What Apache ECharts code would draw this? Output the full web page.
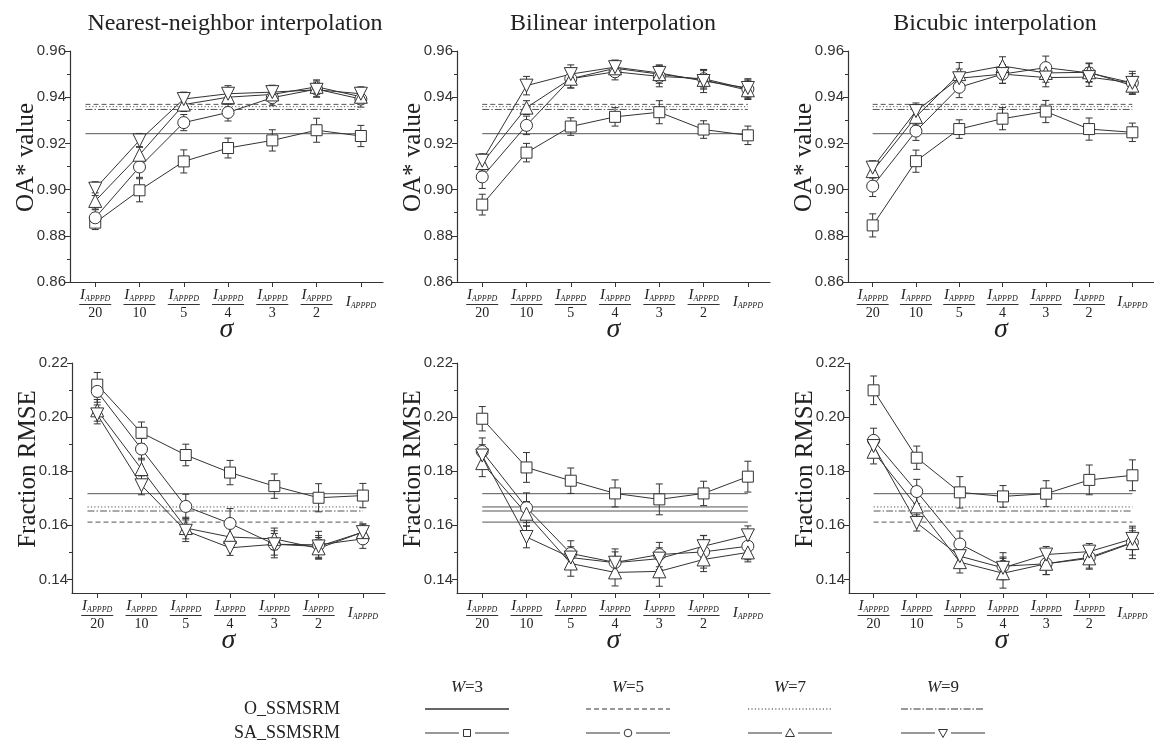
<!DOCTYPE html>
<html>
<head>
<meta charset="UTF-8">
<title>SSMSRM</title>
<script src="https://cdn.jsdelivr.net/npm/echarts@6/dist/echarts.min.js"></script>
<style>html,body{margin:0;background:#fff}#main{width:1154px;height:749px}</style>
</head>
<body>
<div id="main"></div>
<script>
// sigma = I_APPPD / n
var denominators = ['20', '10', '5', '4', '3', '2', ''];
var windowSizes = ['3', '5', '7', '9'];
var panelTitles = ['Nearest-neighbor interpolation', 'Bilinear interpolation', 'Bicubic interpolation'];

// O_SSMSRM (flat reference), W = 3, 5, 7, 9
var oaRef = [0.9242, 0.9369, 0.9359, 0.9347];
var rmseRef = [0.1717, 0.1612, 0.1668, 0.1653];

// SA_SSMSRM, rows W = 3, 5, 7, 9
var oaNearest = [
  [0.8857, 0.8997, 0.9122, 0.9180, 0.9213, 0.9257, 0.9232],
  [0.8878, 0.9098, 0.9290, 0.9334, 0.9398, 0.9435, 0.9392],
  [0.8951, 0.9151, 0.9368, 0.9400, 0.9412, 0.9445, 0.9402],
  [0.9004, 0.9213, 0.9392, 0.9415, 0.9422, 0.9432, 0.9415]
];
var oaNearestErr = [
  [0.003, 0.005, 0.005, 0.0043, 0.0046, 0.0052, 0.0046],
  [0.0035, 0.0045, 0.0035, 0.0037, 0.0035, 0.0035, 0.0035],
  [0.0035, 0.0035, 0.003, 0.003, 0.003, 0.003, 0.003],
  [0.003, 0.003, 0.003, 0.0035, 0.003, 0.003, 0.003]
];
var oaBilinear = [
  [0.8935, 0.9160, 0.9273, 0.9315, 0.9335, 0.9260, 0.9235],
  [0.9055, 0.9278, 0.9480, 0.9510, 0.9490, 0.9480, 0.9435],
  [0.9115, 0.9355, 0.9480, 0.9525, 0.9500, 0.9475, 0.9430],
  [0.9125, 0.9450, 0.9500, 0.9530, 0.9505, 0.9470, 0.9440]
];
var oaBilinearErr = [
  [0.0045, 0.004, 0.0038, 0.004, 0.005, 0.0038, 0.004],
  [0.005, 0.004, 0.004, 0.0035, 0.0045, 0.004, 0.004],
  [0.0035, 0.003, 0.004, 0.0035, 0.004, 0.004, 0.004],
  [0.003, 0.004, 0.004, 0.003, 0.003, 0.005, 0.004]
];
var oaBicubic = [
  [0.8845, 0.9123, 0.9262, 0.9307, 0.9338, 0.9262, 0.9248],
  [0.9015, 0.9253, 0.9443, 0.9500, 0.9528, 0.9505, 0.9462],
  [0.9080, 0.9315, 0.9500, 0.9535, 0.9505, 0.9508, 0.9450],
  [0.9095, 0.9340, 0.9482, 0.9500, 0.9485, 0.9487, 0.9462]
];
var oaBicubicErr = [
  [0.005, 0.0048, 0.004, 0.0048, 0.0048, 0.0048, 0.004],
  [0.0045, 0.004, 0.0045, 0.004, 0.005, 0.004, 0.005],
  [0.003, 0.0035, 0.005, 0.004, 0.004, 0.004, 0.0035],
  [0.003, 0.0035, 0.004, 0.004, 0.004, 0.004, 0.004]
];
var rmseNearest = [
  [0.2120, 0.1942, 0.1860, 0.1795, 0.1745, 0.1702, 0.1710],
  [0.2095, 0.1882, 0.1670, 0.1607, 0.1530, 0.1528, 0.1550],
  [0.2025, 0.1808, 0.1590, 0.1557, 0.1550, 0.1515, 0.1575],
  [0.2010, 0.1748, 0.1580, 0.1517, 0.1530, 0.1522, 0.1575]
];
var rmseNearestErr = [
  [0.0045, 0.004, 0.004, 0.0045, 0.0045, 0.0052, 0.0045],
  [0.004, 0.004, 0.0045, 0.0055, 0.005, 0.005, 0.0035],
  [0.004, 0.004, 0.004, 0.004, 0.004, 0.004, 0.003],
  [0.0035, 0.0035, 0.004, 0.0028, 0.004, 0.004, 0.003]
];
var rmseBilinear = [
  [0.1994, 0.1814, 0.1765, 0.1718, 0.1696, 0.1718, 0.1780],
  [0.1873, 0.1665, 0.1496, 0.1463, 0.1492, 0.1502, 0.1523],
  [0.1830, 0.1643, 0.1459, 0.1426, 0.1430, 0.1474, 0.1500],
  [0.1858, 0.1557, 0.1481, 0.1462, 0.1477, 0.1523, 0.1563]
];
var rmseBilinearErr = [
  [0.0045, 0.0055, 0.0047, 0.005, 0.0057, 0.0045, 0.0057],
  [0.005, 0.0055, 0.0047, 0.005, 0.0045, 0.006, 0.005],
  [0.005, 0.0045, 0.0047, 0.005, 0.0055, 0.0045, 0.0035],
  [0.004, 0.004, 0.004, 0.004, 0.004, 0.004, 0.0035]
];
var rmseBicubic = [
  [0.2099, 0.1850, 0.1722, 0.1707, 0.1717, 0.1768, 0.1785],
  [0.1914, 0.1725, 0.1531, 0.1449, 0.1458, 0.1482, 0.1537],
  [0.1872, 0.1670, 0.1464, 0.1423, 0.1458, 0.1478, 0.1535],
  [0.1893, 0.1609, 0.1486, 0.1443, 0.1492, 0.1503, 0.1550]
];
var rmseBicubicErr = [
  [0.0053, 0.0043, 0.0058, 0.004, 0.0048, 0.0055, 0.0057],
  [0.0045, 0.0045, 0.0048, 0.005, 0.004, 0.004, 0.006],
  [0.0045, 0.004, 0.004, 0.0055, 0.004, 0.004, 0.0045],
  [0.0035, 0.003, 0.004, 0.004, 0.003, 0.003, 0.004]
];

var oaMajor = [0.86, 0.88, 0.90, 0.92, 0.94, 0.96];
var oaMinor = [0.87, 0.89, 0.91, 0.93, 0.95];
var rmseMajor = [0.14, 0.16, 0.18, 0.20, 0.22];
var rmseMinor = [0.15, 0.17, 0.19, 0.21];

var serif = '"Liberation Serif", "DejaVu Serif", serif';
var sans = '"Liberation Sans", Arial, sans-serif';
var ink = '#333';
var symbols = ['rect', 'circle', 'triangle', 'triangle'];
var symbolRot = [0, 0, 0, 180];
var symbolSizes = [11, 12, 13, 13];
var dashes = ['solid', [5, 3], [1.2, 2.2], [7, 2, 1.5, 2]];

var panels = [
  {data: oaNearest, err: oaNearestErr, ref: oaRef, metric: 'oa', left: 70, refFrom: -0.22, solidRef: false},
  {data: oaBilinear, err: oaBilinearErr, ref: oaRef, metric: 'oa', left: 457, refFrom: 0, solidRef: false},
  {data: oaBicubic, err: oaBicubicErr, ref: oaRef, metric: 'oa', left: 848, refFrom: 0, solidRef: false},
  {data: rmseNearest, err: rmseNearestErr, ref: rmseRef, metric: 'rmse', left: 72, refFrom: -0.22, solidRef: false},
  {data: rmseBilinear, err: rmseBilinearErr, ref: rmseRef, metric: 'rmse', left: 457, refFrom: 0, solidRef: true},
  {data: rmseBicubic, err: rmseBicubicErr, ref: rmseRef, metric: 'rmse', left: 849, refFrom: 0, solidRef: false}
];

var catIdx = [0, 1, 2, 3, 4, 5, 6];

function xLabel(v) {
  var k = Math.round(v);
  if (!denominators[k]) return '{gap|}\n{i|I}{s|APPPD}';
  return '{i|I}{s|APPPD}\n{bar|}\n{d|' + denominators[k] + '}';
}

var grid = [], xAxis = [], yAxis = [], series = [];

panels.forEach(function (p, i) {
  var oa = p.metric === 'oa';
  grid.push({left: p.left, top: oa ? 51 : 363, width: 313, height: oa ? 231 : 230});
  xAxis.push({
    type: 'value', gridIndex: i, min: -0.57, max: 6.5,
    name: 'σ', nameLocation: 'middle', nameGap: 34, nameMoveOverlap: false,
    nameTextStyle: {fontFamily: serif, fontStyle: 'italic', fontSize: 28, color: '#222'},
    axisLine: {onZero: false, lineStyle: {color: ink, width: 1.2}},
    axisTick: {show: true, length: 5, customValues: catIdx, lineStyle: {color: ink}},
    axisLabel: {
      customValues: catIdx, margin: 6, formatter: xLabel,
      rich: {
        i: {fontFamily: serif, fontStyle: 'italic', fontSize: 15, color: '#222', lineHeight: 15},
        s: {fontFamily: serif, fontStyle: 'italic', fontSize: 8, color: '#222', lineHeight: 8, verticalAlign: 'bottom'},
        bar: {width: 32, height: 1, backgroundColor: '#333', lineHeight: 3},
        d: {fontFamily: serif, fontSize: 14, color: '#222', lineHeight: 15},
        gap: {lineHeight: 7}
      }
    },
    splitLine: {show: false}
  });
  var major = oa ? oaMajor : rmseMajor;
  var minor = oa ? oaMinor : rmseMinor;
  var ymin = oa ? 0.86 : 0.135, ymax = oa ? 0.96 : 0.22;
  yAxis.push({
    type: 'value', gridIndex: i, position: 'left', min: ymin, max: ymax,
    name: oa ? 'OA* value' : 'Fraction RMSE', nameLocation: 'middle', nameGap: 31, nameMoveOverlap: false,
    nameTextStyle: {fontFamily: serif, fontSize: 25, color: '#222', padding: [0, 0, 0, 18]},
    axisLine: {show: true, onZero: false, lineStyle: {color: ink, width: 1.2}},
    axisTick: {show: true, length: 5, customValues: major, lineStyle: {color: ink}},
    axisLabel: {customValues: major, margin: 4, fontFamily: sans, fontSize: 15, color: '#333',
      formatter: function (v) { return v.toFixed(2); }},
    splitLine: {show: false}
  });
  // minor ticks only
  yAxis.push({
    type: 'value', gridIndex: i, position: 'left', min: ymin, max: ymax,
    axisLine: {show: false, onZero: false},
    axisTick: {show: true, length: 3, customValues: minor, lineStyle: {color: ink}},
    axisLabel: {show: false},
    splitLine: {show: false}
  });
  var yIdx = 2 * i;

  p.ref.forEach(function (r, w) {
    series.push({
      type: 'line', xAxisIndex: i, yAxisIndex: yIdx, symbol: 'none', silent: true, z: 2,
      data: [[p.refFrom, r], [6, r]],
      lineStyle: {color: '#555', width: 1, type: p.solidRef ? 'solid' : dashes[w]}
    });
  });

  p.data.forEach(function (vals, w) {
    var e = p.err[w];
    series.push({
      type: 'custom', xAxisIndex: i, yAxisIndex: yIdx, silent: true, z: 3,
      data: vals.map(function (v, k) { return [k, v - e[k], v + e[k]]; }),
      encode: {x: 0, y: [1, 2]},
      renderItem: function (params, api) {
        var x = api.value(0);
        var lo = api.coord([x, api.value(1)]);
        var hi = api.coord([x, api.value(2)]);
        var st = {stroke: ink, lineWidth: 1};
        return {type: 'group', children: [
          {type: 'line', shape: {x1: lo[0], y1: lo[1], x2: hi[0], y2: hi[1]}, style: st},
          {type: 'line', shape: {x1: lo[0] - 3.5, y1: lo[1], x2: lo[0] + 3.5, y2: lo[1]}, style: st},
          {type: 'line', shape: {x1: hi[0] - 3.5, y1: hi[1], x2: hi[0] + 3.5, y2: hi[1]}, style: st}
        ]};
      }
    });
    series.push({
      type: 'line', xAxisIndex: i, yAxisIndex: yIdx, z: 4,
      data: vals.map(function (v, k) { return [k, v]; }),
      symbol: symbols[w], symbolSize: symbolSizes[w], symbolRotate: symbolRot[w],
      showAllSymbol: true,
      itemStyle: {color: '#fff', borderColor: ink, borderWidth: 1},
      lineStyle: {color: ink, width: 1}
    });
  });
});

var titleX = [230, 608, 990];
var title = panelTitles.map(function (t, i) {
  return {text: t, left: titleX[i], top: 7, textAlign: 'center',
    textStyle: {fontFamily: serif, fontSize: 24, fontWeight: 'normal', color: '#222'}};
});

// legend table at the bottom
var legendCols = [467, 628, 790, 943];
var rowW = 688, rowO = 709, rowSA = 733;
var graphic = [];
windowSizes.forEach(function (w, i) {
  var cx = legendCols[i];
  graphic.push({type: 'text', x: cx, y: rowW, style: {
    text: '{w|W}{e|=' + w + '}', align: 'center', verticalAlign: 'middle',
    rich: {w: {fontFamily: serif, fontStyle: 'italic', fontSize: 17, fill: '#222'},
           e: {fontFamily: serif, fontSize: 17, fill: '#222'}}}});
  graphic.push({type: 'line', shape: {x1: cx - 42, y1: rowO, x2: cx + 42, y2: rowO},
    style: {stroke: ink, lineWidth: i === 0 ? 1.6 : 1.2, lineDash: dashes[i] === 'solid' ? null : dashes[i]}});
  graphic.push({type: 'line', shape: {x1: cx - 42, y1: rowSA, x2: cx - 8, y2: rowSA}, style: {stroke: ink, lineWidth: 1}});
  graphic.push({type: 'line', shape: {x1: cx + 8, y1: rowSA, x2: cx + 42, y2: rowSA}, style: {stroke: ink, lineWidth: 1}});
  var mk = {fill: '#fff', stroke: ink, lineWidth: 1};
  if (i === 0) graphic.push({type: 'rect', shape: {x: cx - 3.5, y: rowSA - 3.5, width: 7, height: 7}, style: mk});
  if (i === 1) graphic.push({type: 'circle', shape: {cx: cx, cy: rowSA, r: 3.8}, style: mk});
  if (i === 2) graphic.push({type: 'polygon', shape: {points: [[cx, rowSA - 4.5], [cx - 4.5, rowSA + 3.5], [cx + 4.5, rowSA + 3.5]]}, style: mk});
  if (i === 3) graphic.push({type: 'polygon', shape: {points: [[cx, rowSA + 4.5], [cx - 4.5, rowSA - 3.5], [cx + 4.5, rowSA - 3.5]]}, style: mk});
});
graphic.push({type: 'text', x: 340, y: rowO, style: {text: 'O_SSMSRM', align: 'right', verticalAlign: 'middle',
  fontFamily: serif, fontSize: 18, fill: '#222'}});
graphic.push({type: 'text', x: 340, y: rowSA, style: {text: 'SA_SSMSRM', align: 'right', verticalAlign: 'middle',
  fontFamily: serif, fontSize: 18, fill: '#222'}});

var chart = echarts.init(document.getElementById('main'));
chart.setOption({
  animation: false,
  backgroundColor: '#fff',
  title: title,
  grid: grid,
  xAxis: xAxis,
  yAxis: yAxis,
  series: series,
  graphic: graphic
});
</script>
</body>
</html>
